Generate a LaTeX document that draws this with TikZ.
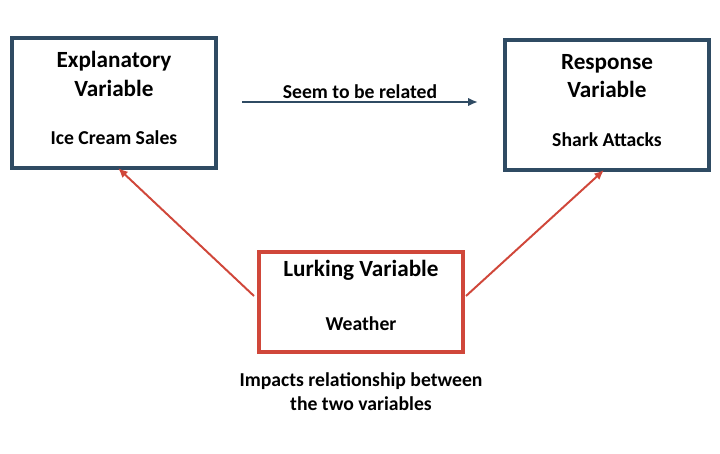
\documentclass[tikz,border=0pt]{standalone}
\usepackage{fontspec}
\setmainfont{Carlito}
\usetikzlibrary{positioning,arrows.meta}
\definecolor{boxblue}{HTML}{2F4B63}
\definecolor{boxred}{HTML}{D0473A}

\tikzset{
  varbox/.style={draw=boxblue, line width=2.4pt, minimum width=5.1cm, minimum height=3.25cm, align=center},
  lurkbox/.style={draw=boxred, line width=2.4pt, minimum width=5.1cm, minimum height=2.5cm, align=center},
  title/.style={font=\bfseries\fontsize{16.5}{20}\selectfont, align=center},
  sub/.style={font=\bfseries\fontsize{14}{17}\selectfont, align=center},
  link/.style={line width=1.4pt, -{Latex[length=7pt,width=6pt]}}
}

\begin{document}
\begin{tikzpicture}
\useasboundingbox (0,0) rectangle (18,-11.35);

\node[varbox] (expl) at (2.85,-2.575) {};
\node[varbox] (resp) at (15.175,-2.625) {};
\node[lurkbox] (lurk) at (9.025,-7.55) {};

\node[title] (explT) at (2.85,-1.85) {Explanatory\\Variable};
\node[sub] (explS) at (2.85,-3.45) {Ice Cream Sales};
\node[title] (respT) at (15.175,-1.9) {Response\\Variable};
\node[sub] (respS) at (15.175,-3.5) {Shark Attacks};
\node[title] (lurkT) at (9.025,-6.75) {Lurking Variable};
\node[sub] (lurkS) at (9.025,-8.1) {Weather};

\coordinate (relA) at (6.05,-2.55);
\coordinate (relB) at (11.95,-2.55);
\draw[boxblue, link] (relA) -- (relB) node[midway, above=-2pt, sub, text=black] {Seem to be related};

\coordinate (lurkL) at (6.35,-7.4);
\coordinate (lurkR) at (11.65,-7.4);
\coordinate (explIn) at (2.95,-4.2);
\coordinate (respIn) at (15.1,-4.25);
\draw[boxred, link] (lurkL) -- (explIn);
\draw[boxred, link] (lurkR) -- (respIn);

\node[sub, below=0.35cm of lurk] (note) {Impacts relationship between\\the two variables};
\end{tikzpicture}
\end{document}
